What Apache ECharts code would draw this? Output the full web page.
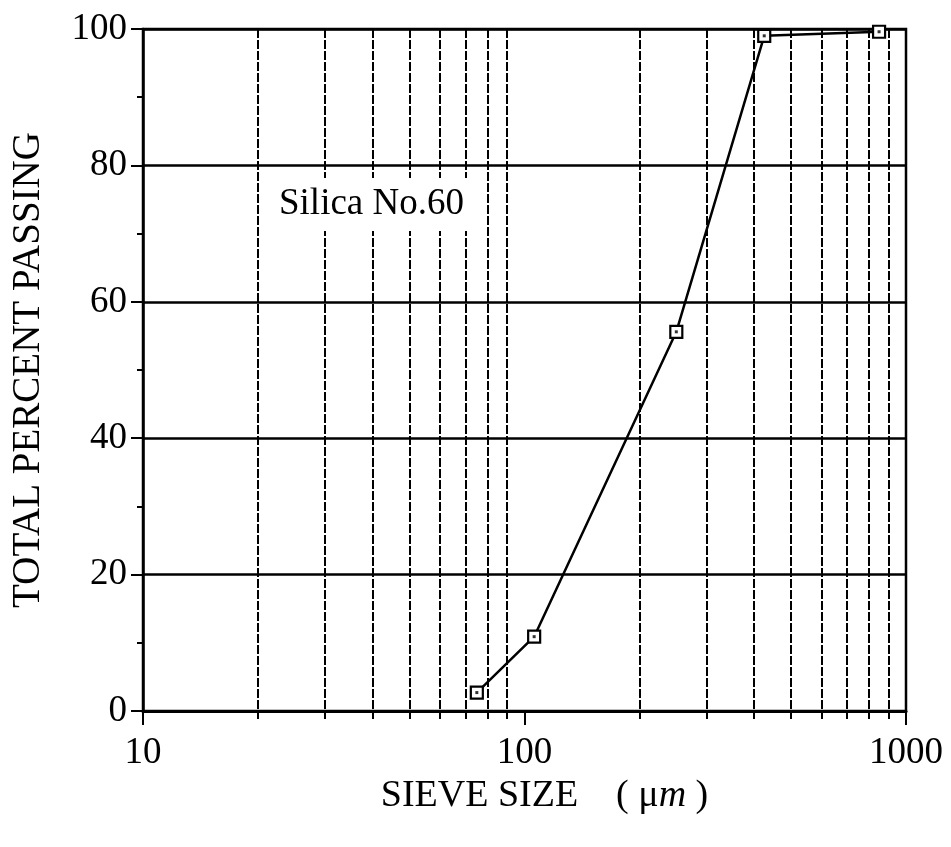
<!DOCTYPE html>
<html><head><meta charset="utf-8">
<script src="https://cdn.jsdelivr.net/npm/echarts@6/dist/echarts.min.js"></script>
<style>html,body{margin:0;padding:0;background:#fff}#c{width:951px;height:847px}</style>
</head><body><div id="c"></div>
<script>
// Data
const sieveSizes = [75, 106, 250, 425, 850];          // µm
const percentPassing = [2.7, 10.9, 55.6, 99.0, 99.6]; // %
const xMajorTicks = [10, 100, 1000];
const xMinorTicks = [20, 30, 40, 50, 60, 70, 80, 90, 200, 300, 400, 500, 600, 700, 800, 900];
const yMajorTicks = [0, 20, 40, 60, 80, 100];
const yMinorTicks = [0, 10, 20, 30, 40, 50, 60, 70, 80, 90, 100];
const sampleLabel = 'Silica No.60';
const xTitle = 'SIEVE SIZE    ( {u|μ}{i|m} )';
const yTitle = 'TOTAL PERCENT PASSING';

const FONT = '"Liberation Serif", "Times New Roman", serif';
const points = sieveSizes.map((s, i) => [s, percentPassing[i]]);

const chart = echarts.init(document.getElementById('c'), null, {renderer: 'canvas'});
chart.setOption({
  backgroundColor: '#fff',
  animation: false,
  grid: {left: 143, right: 45, top: 29, bottom: 136, show: true, borderColor: '#000', borderWidth: 2.5, backgroundColor: 'transparent'},
  xAxis: [{
    type: 'log', logBase: 10, min: 10, max: 1000, position: 'bottom',
    axisLine: {show: true, onZero: false, lineStyle: {color: '#000', width: 3}},
    axisTick: {show: true, inside: false, length: 14, customValues: xMajorTicks, lineStyle: {color: '#000', width: 2}},
    axisLabel: {show: true, margin: 24, customValues: xMajorTicks, color: '#000', fontFamily: FONT, fontSize: 37,
      formatter: v => String(Math.round(v))},
    splitLine: {show: false},
    name: xTitle, nameLocation: 'middle', nameGap: 64,
    nameTextStyle: {color: '#000', fontFamily: FONT, fontSize: 38, padding: [0, 0, 0, 40],
      rich: {u: {fontFamily: FONT, fontSize: 38, color: '#000'}, i: {fontFamily: FONT, fontSize: 38, fontStyle: 'italic', color: '#000'}}}
  }, {
    type: 'log', logBase: 10, min: 10, max: 1000, position: 'bottom',
    axisLine: {show: false, onZero: false},
    axisTick: {show: true, inside: false, length: 8, customValues: xMinorTicks, lineStyle: {color: '#000', width: 2}},
    axisLabel: {show: false},
    splitLine: {show: true, lineStyle: {color: '#000', width: 2, type: [9, 2]}}
  }],
  yAxis: [{
    type: 'value', min: 0, max: 100, interval: 20, position: 'left',
    axisLine: {show: true, onZero: false, lineStyle: {color: '#000', width: 2.5}},
    axisTick: {show: true, inside: false, length: 12, lineStyle: {color: '#000', width: 2}},
    axisLabel: {show: true, margin: 16, color: '#000', fontFamily: FONT, fontSize: 37},
    splitLine: {show: true, lineStyle: {color: '#000', width: 2.5}},
    name: yTitle, nameLocation: 'middle', nameGap: 95, nameRotate: 90,
    nameTextStyle: {color: '#000', fontFamily: FONT, fontSize: 39}
  }, {
    type: 'value', min: 0, max: 100, interval: 10, position: 'left',
    axisLine: {show: false, onZero: false},
    axisTick: {show: true, inside: false, length: 6, customValues: yMinorTicks, lineStyle: {color: '#000', width: 2}},
    axisLabel: {show: false},
    splitLine: {show: false}
  }],
  graphic: [{
    type: 'text', left: 273, top: 178, z: 100,
    style: {text: sampleLabel, fill: '#000', font: '37px ' + FONT, backgroundColor: '#fff', padding: [8, 6, 8, 6]}
  }],
  series: [{
    type: 'line', xAxisIndex: 0, yAxisIndex: 0, data: points,
    symbol: 'rect', symbolSize: 12, showAllSymbol: true,
    lineStyle: {color: '#000', width: 2.5},
    itemStyle: {color: '#fff', borderColor: '#000', borderWidth: 2.2},
    z: 5
  }, {
    type: 'scatter', xAxisIndex: 0, yAxisIndex: 0, data: points,
    symbol: 'rect', symbolSize: 3,
    itemStyle: {color: '#000'},
    z: 6
  }]
});
</script></body></html>
